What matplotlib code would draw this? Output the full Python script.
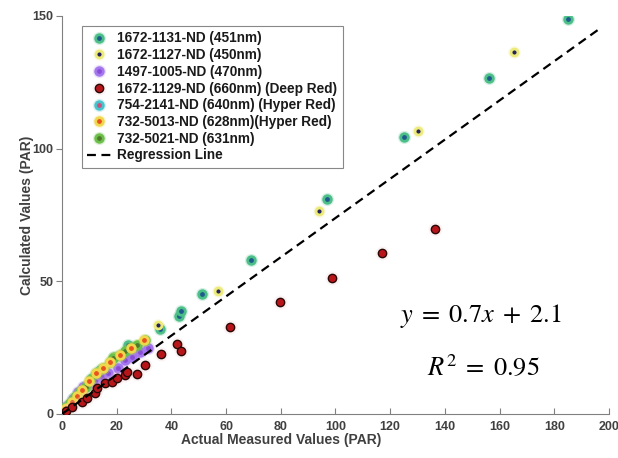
import matplotlib
matplotlib.use("Agg")
import matplotlib.pyplot as plt

plt.rcParams['font.family'] = ['Liberation Sans', 'DejaVu Sans']
plt.rcParams['mathtext.fontset'] = 'stix'

# series values (PAR)
x_451 = [0.5, 2.0, 4.0, 6.0, 8.0, 11.0, 14.0, 19.0, 24.0, 35.8, 42.9, 43.5, 51.3, 69.1, 97.0, 125.2, 156.1, 185.2]
y_451 = [0.8, 2.8, 5.5, 7.8, 10.0, 13.5, 16.5, 21.5, 26.0, 32.0, 36.9, 38.8, 45.2, 58.2, 81.2, 104.3, 126.8, 148.8]

x_450 = [1.0, 3.0, 5.5, 9.0, 13.0, 19.0, 27.5, 35.0, 57.2, 94.0, 130.1, 165.3]
y_450 = [1.5, 3.8, 7.0, 11.0, 15.5, 21.5, 26.0, 33.5, 46.2, 76.4, 106.7, 136.3]

x_470 = [2.0, 4.0, 6.0, 7.8, 9.6, 12.0, 14.5, 17.0, 20.6, 23.0, 25.5, 28.5, 31.6]
y_470 = [3.0, 5.8, 8.4, 10.3, 10.9, 12.4, 14.0, 15.6, 17.2, 20.4, 21.6, 23.5, 25.0]

x_660 = [1.5, 3.5, 7.2, 9.0, 12.1, 12.7, 15.7, 18.2, 20.0, 23.0, 23.7, 27.3, 30.3, 36.2, 42.0, 43.6, 61.4, 79.7, 98.8, 117.0, 136.4]
y_660 = [1.0, 2.5, 4.6, 5.9, 7.8, 9.7, 11.6, 12.2, 13.5, 14.7, 15.9, 15.0, 18.5, 22.6, 26.4, 23.7, 32.8, 42.2, 51.3, 60.7, 69.7]

x_640 = [0.0, 0.5, 1.1, 2.0, 3.0]
y_640 = [0.3, 0.8, 1.5, 2.5, 3.2]

x_628 = [1.5, 3.5, 5.5, 7.5, 10.0, 12.4, 14.9, 17.6, 21.2, 25.1, 30.1]
y_628 = [2.3, 4.5, 6.9, 9.0, 12.5, 15.3, 17.2, 19.5, 22.2, 25.0, 27.9]

x_631 = [1.1, 2.9, 4.8, 6.6, 8.8, 10.2, 12.4, 14.9, 17.6, 18.8, 21.2, 23.0, 25.1, 27.5, 30.3]
y_631 = [2.1, 4.0, 6.5, 8.4, 10.3, 12.8, 15.3, 17.2, 19.5, 21.0, 22.2, 23.7, 25.0, 26.0, 27.9]

reg_x = [0, 197]
reg_y = [0, 145.5]

labels = ['1672-1131-ND (451nm)', '1672-1127-ND (450nm)', '1497-1005-ND (470nm)',
          '1672-1129-ND (660nm) (Deep Red)', '754-2141-ND (640nm) (Hyper Red)',
          '732-5013-ND (628nm)(Hyper Red)', '732-5021-ND (631nm)', 'Regression Line']

fig = plt.figure(figsize=(6.18, 4.58), dpi=100)
ax = fig.add_axes([0.1003, 0.0961, 0.885, 0.869])


def dots(x, y, center, ring, halo_c=None, ms=5.5, mew=2.0, z=3):
    # soft halo under the marker, like the blurry matlab export
    if halo_c is None:
        halo_c = ring
    halo, = ax.plot(x, y, 'o', ls='none', ms=ms + 4, mfc=halo_c, mec='none', alpha=0.22, zorder=z)
    core, = ax.plot(x, y, 'o', ls='none', ms=ms, mfc=center, mec=ring, mew=mew, zorder=z + 0.1)
    return (halo, core)


h1 = dots(x_451, y_451, '#1f5a8c', '#4cbf88')
h2 = dots(x_450, y_450, '#26235e', '#ecea78', ms=5.0)
h3 = dots(x_470, y_470, '#8a4ed6', '#a477ee')
h5 = dots(x_640, y_640, '#cc4f7c', '#48c3cb')
h6 = dots(x_628, y_628, '#e8521c', '#f0d84c', z=3.3)
h7 = dots(x_631, y_631, '#4f7a2c', '#6cc04a', z=3.2)
h4 = dots(x_660, y_660, '#b8151b', '#2a0808', halo_c='#f0c8c8', ms=6.0, mew=1.0, z=4)

reg, = ax.plot(reg_x, reg_y, color='black', lw=1.6, dashes=(4, 2.5), zorder=5)

ax.set_xlim(0, 200)
ax.set_ylim(0, 150)
ax.set_xticks(range(0, 201, 20))
ax.set_yticks([0, 50, 100, 150])
for s in ['top', 'right']:
    ax.spines[s].set_visible(False)
for s in ['left', 'bottom']:
    ax.spines[s].set_color('#808080')
    ax.spines[s].set_linewidth(0.8)
ax.tick_params(axis='x', direction='in', length=4, color='#808080', labelsize=9, labelcolor='#404040', pad=5)
ax.tick_params(axis='y', direction='out', length=4, color='#808080', labelsize=9, labelcolor='#404040', pad=2)
for t in ax.get_xticklabels() + ax.get_yticklabels():
    t.set_fontweight('bold')

ax.set_xlabel('Actual Measured Values (PAR)', fontsize=10, fontweight='bold', color='#404040')
ax.xaxis.set_label_coords(0.4, -0.048)
ax.set_ylabel('Calculated Values (PAR)', fontsize=10, fontweight='bold', color='#404040')
ax.yaxis.set_label_coords(-0.052, 0.5)

ax.text(153, 34.7, r'$y\;=\;0.7x\;+\;2.1$', ha='center', va='baseline', fontsize=19)
ax.text(154, 14.7, r'$R^2\;=\;0.95$', ha='center', va='baseline', fontsize=19)

leg = ax.legend([h1, h2, h3, h4, h5, h6, h7, reg], labels, loc='upper left',
                bbox_to_anchor=(0.0366, 0.975), borderaxespad=0, prop={'weight': 'bold', 'size': 9.8},
                handlelength=1.7, handletextpad=0.5, labelspacing=0.2, borderpad=0.4,
                fancybox=False, framealpha=1, edgecolor='#888888', numpoints=1)
leg.get_frame().set_linewidth(0.8)
for t in leg.get_texts():
    t.set_color('#1a1a1a')

fig.savefig('out.png', dpi=100)
